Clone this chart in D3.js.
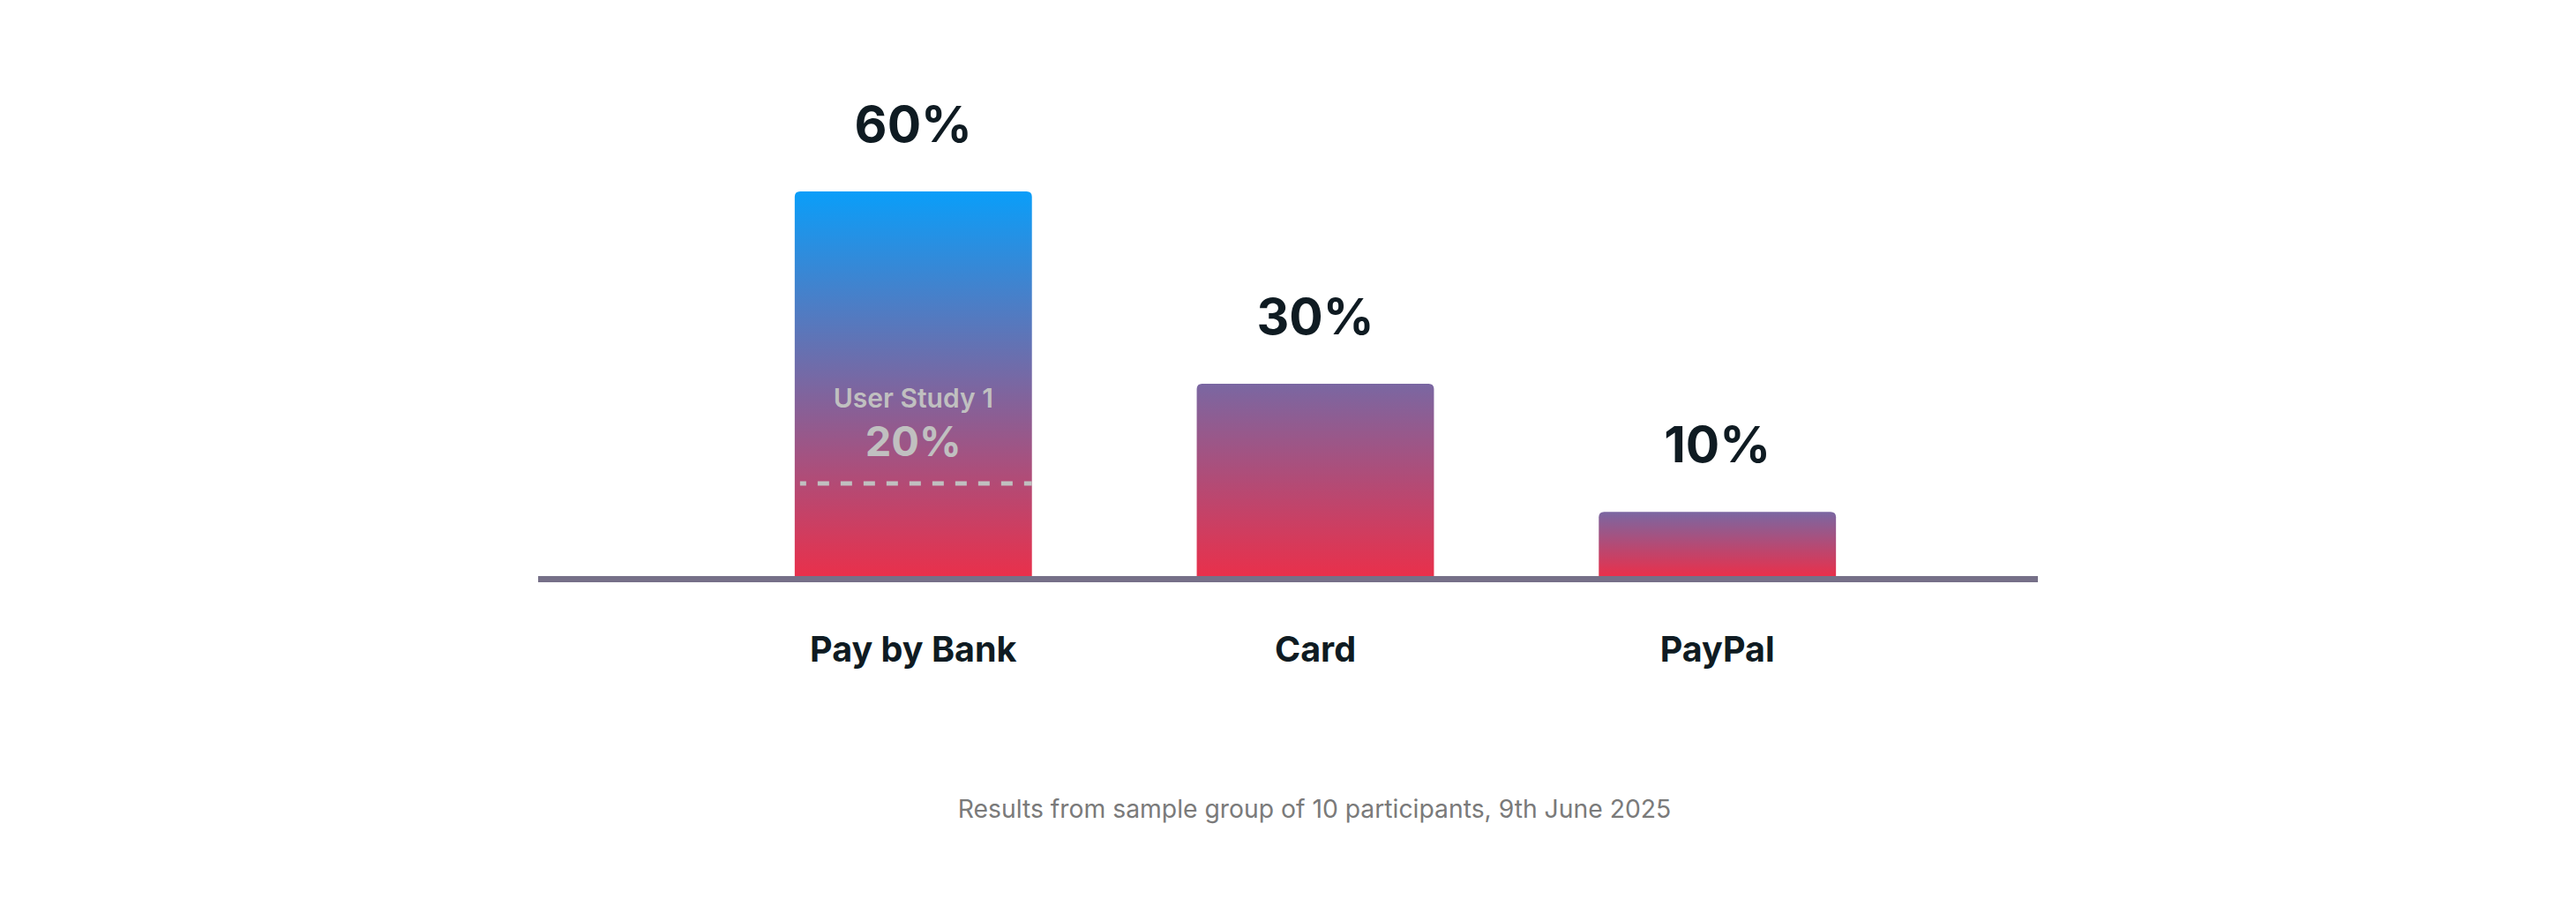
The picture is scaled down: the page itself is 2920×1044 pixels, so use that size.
<!DOCTYPE html>
<html>
<head>
<meta charset="utf-8">
<script src="https://cdn.jsdelivr.net/npm/d3@7"></script>
<style>
  html, body { margin: 0; padding: 0; background: #fff; }
  svg { display: block; }
</style>
</head>
<body>
<div id="chart"></div>
<script>
/* payment method preference — bar chart with a study marker */

var categories = ['Pay by Bank', 'Card', 'PayPal'];
var shares = [60, 30, 10];
var valueLabels = ['60%', '30%', '10%'];

// earlier study reference, drawn as a dashed level inside the first bar
var studyCategory = 'Pay by Bank';
var studyTitle = 'User Study 1';
var studyLabel = '20%';
var studyLevel = 14.45;

var footnote = 'Results from sample group of 10 participants, 9th June 2025';

var W = 2920, H = 1044;
var FONT = 'Inter, "Noto Sans", sans-serif';
var INK = '#0f1b22';
var BLUE = '#0a9ef9', RED = '#e9304b';

var svg = d3.select('#chart').append('svg')
  .attr('width', W).attr('height', H)
  .attr('viewBox', '0 0 ' + W + ' ' + H);

var x = d3.scaleBand()
  .domain(categories)
  .range([714, 2268])
  .padding(0.41);

var y = d3.scaleLinear()
  .domain([0, 60])
  .range([653, 217]);

var mix = d3.interpolateRgb(BLUE, RED);

/* one gradient per bar: the tallest runs blue → red, the rest start mid-way */
var defs = svg.append('defs');
categories.forEach(function (c, i) {
  var g = defs.append('linearGradient')
    .attr('id', 'grad' + i)
    .attr('x1', 0).attr('y1', 0).attr('x2', 0).attr('y2', 1);
  g.append('stop').attr('offset', 0).attr('stop-color', i === 0 ? mix(0) : mix(0.5));
  g.append('stop').attr('offset', 1).attr('stop-color', mix(1));
});

function topRounded(x0, y0, w, h, r) {
  return 'M' + x0 + ',' + (y0 + h) +
    'V' + (y0 + r) +
    'Q' + x0 + ',' + y0 + ' ' + (x0 + r) + ',' + y0 +
    'H' + (x0 + w - r) +
    'Q' + (x0 + w) + ',' + y0 + ' ' + (x0 + w) + ',' + (y0 + r) +
    'V' + (y0 + h) + 'Z';
}

/* bars */
svg.append('g').selectAll('path')
  .data(categories)
  .join('path')
  .attr('d', function (c, i) {
    return topRounded(x(c), y(shares[i]), x.bandwidth(), y(0) - y(shares[i]), 6);
  })
  .attr('fill', function (c, i) { return 'url(#grad' + i + ')'; });

/* value labels above bars */
svg.append('g').selectAll('text')
  .data(categories)
  .join('text')
  .attr('x', function (c) { return x(c) + x.bandwidth() / 2; })
  .attr('y', function (c, i) { return y(shares[i]) - 56; })
  .attr('text-anchor', 'middle')
  .attr('font-family', FONT).attr('font-size', 57).attr('font-weight', 700)
  .attr('fill', INK)
  .text(function (c, i) { return valueLabels[i]; });

/* study marker */
var sx = x(studyCategory), sy = y(studyLevel), scx = sx + x.bandwidth() / 2;
svg.append('line')
  .attr('x1', sx + 6).attr('x2', sx + x.bandwidth())
  .attr('y1', sy).attr('y2', sy)
  .attr('stroke', '#c0c0c0').attr('stroke-width', 5)
  .attr('stroke-dasharray', '13,13').attr('stroke-dashoffset', 6);

svg.append('text')
  .attr('x', scx).attr('y', sy - 86)
  .attr('text-anchor', 'middle')
  .attr('font-family', FONT).attr('font-size', 30).attr('font-weight', 600)
  .attr('fill', '#c0c0c0')
  .text(studyTitle);

svg.append('text')
  .attr('x', scx).attr('y', sy - 31)
  .attr('text-anchor', 'middle')
  .attr('font-family', FONT).attr('font-size', 47).attr('font-weight', 700)
  .attr('fill', '#c0c0c0')
  .text(studyLabel);

/* baseline */
svg.append('line')
  .attr('x1', 610).attr('x2', 2310)
  .attr('y1', y(0) + 3.5).attr('y2', y(0) + 3.5)
  .attr('stroke', '#767088').attr('stroke-width', 7);

/* category axis, no ticks or domain */
var xAxis = svg.append('g')
  .attr('transform', 'translate(0,' + y(0) + ')')
  .call(d3.axisBottom(x).tickSize(0).tickPadding(0));
xAxis.select('.domain').remove();
xAxis.selectAll('text')
  .attr('dy', null)
  .attr('y', 97)
  .attr('font-family', FONT).attr('font-size', 39.5).attr('font-weight', 700)
  .attr('fill', INK);

/* footnote */
svg.append('text')
  .attr('x', W / 2 + 30).attr('y', 927)
  .attr('text-anchor', 'middle')
  .attr('font-family', FONT).attr('font-size', 28.3)
  .attr('fill', '#7a7a7a')
  .text(footnote);
</script>
</body>
</html>
